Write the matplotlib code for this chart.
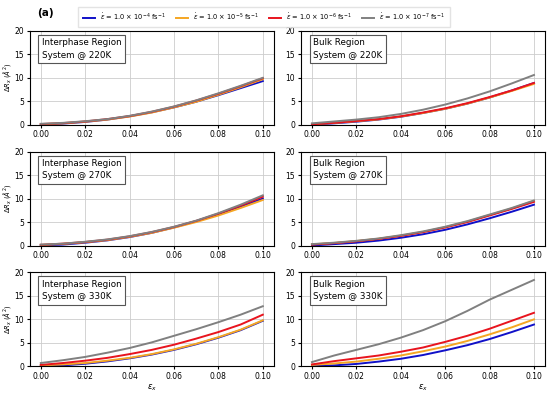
import matplotlib
matplotlib.use("Agg")
import matplotlib.pyplot as plt
import numpy as np

strain = [0.0, 0.01, 0.02, 0.03, 0.04, 0.05, 0.06, 0.07, 0.08, 0.09, 0.10]

rate_labels = [r"$\dot{\varepsilon}$ = 1.0 $\times$ 10$^{-4}$ fs$^{-1}$",
               r"$\dot{\varepsilon}$ = 1.0 $\times$ 10$^{-5}$ fs$^{-1}$",
               r"$\dot{\varepsilon}$ = 1.0 $\times$ 10$^{-6}$ fs$^{-1}$",
               r"$\dot{\varepsilon}$ = 1.0 $\times$ 10$^{-7}$ fs$^{-1}$"]
colores = ["#1010c8", "#f5a623", "#e8141e", "#808080"]

panel_titles = ["Interphase Region\nSystem @ 220K", "Bulk Region\nSystem @ 220K",
                "Interphase Region\nSystem @ 270K", "Bulk Region\nSystem @ 270K",
                "Interphase Region\nSystem @ 330K", "Bulk Region\nSystem @ 330K"]

# orden de series: 1e-4, 1e-5, 1e-6, 1e-7
inter_220 = [[0.0, 0.25, 0.6, 1.1, 1.8, 2.65, 3.7, 4.9, 6.3, 7.8, 9.3],
             [0.1, 0.3, 0.65, 1.1, 1.75, 2.6, 3.7, 4.9, 6.4, 8.0, 9.7],
             [0.15, 0.35, 0.7, 1.2, 1.85, 2.75, 3.85, 5.15, 6.6, 8.2, 9.9],
             [0.2, 0.4, 0.75, 1.2, 1.9, 2.8, 3.9, 5.2, 6.7, 8.3, 10.0]]
bulk_220 = [[0.0, 0.3, 0.65, 1.1, 1.7, 2.5, 3.4, 4.5, 5.8, 7.3, 8.9],
            [0.1, 0.4, 0.75, 1.15, 1.75, 2.5, 3.4, 4.5, 5.8, 7.2, 8.7],
            [0.1, 0.4, 0.8, 1.2, 1.8, 2.6, 3.5, 4.6, 5.9, 7.3, 8.9],
            [0.3, 0.7, 1.1, 1.6, 2.3, 3.2, 4.3, 5.6, 7.1, 8.8, 10.6]]
inter_270 = [[0.0, 0.2, 0.6, 1.1, 1.8, 2.7, 3.85, 5.2, 6.7, 8.3, 10.0],
             [0.1, 0.35, 0.7, 1.15, 1.85, 2.7, 3.8, 5.0, 6.4, 8.0, 9.7],
             [0.15, 0.4, 0.75, 1.25, 1.95, 2.85, 3.95, 5.25, 6.8, 8.5, 10.4],
             [0.2, 0.4, 0.8, 1.3, 2.0, 2.9, 4.0, 5.3, 6.9, 8.7, 10.7]]
bulk_270 = [[0.0, 0.3, 0.6, 1.05, 1.65, 2.4, 3.35, 4.5, 5.8, 7.2, 8.7],
            [0.25, 0.55, 0.95, 1.45, 2.1, 2.9, 3.9, 5.1, 6.5, 7.9, 9.5],
            [0.2, 0.5, 0.9, 1.4, 2.05, 2.85, 3.85, 5.0, 6.4, 7.8, 9.3],
            [0.3, 0.6, 1.0, 1.5, 2.2, 3.0, 4.0, 5.2, 6.6, 8.0, 9.6]]
inter_330 = [[0.0, 0.2, 0.55, 1.05, 1.7, 2.5, 3.5, 4.7, 6.1, 7.7, 9.7],
             [0.2, 0.4, 0.7, 1.2, 1.8, 2.6, 3.6, 4.8, 6.2, 7.8, 9.8],
             [0.3, 0.7, 1.2, 1.8, 2.6, 3.5, 4.6, 5.9, 7.3, 8.9, 11.0],
             [0.7, 1.3, 2.0, 2.9, 3.9, 5.1, 6.5, 7.9, 9.4, 11.0, 12.8]]
bulk_330 = [[0.0, 0.2, 0.5, 1.0, 1.6, 2.4, 3.4, 4.5, 5.8, 7.3, 8.9],
            [0.3, 0.6, 1.0, 1.6, 2.3, 3.2, 4.2, 5.4, 6.8, 8.3, 10.0],
            [0.4, 1.1, 1.7, 2.3, 3.1, 4.0, 5.2, 6.5, 8.0, 9.7, 11.4],
            [0.9, 2.3, 3.5, 4.7, 6.1, 7.7, 9.6, 11.8, 14.2, 16.3, 18.4]]

paneles = [inter_220, bulk_220, inter_270, bulk_270, inter_330, bulk_330]

fig = plt.figure(figsize=(5.5, 3.96), dpi=100)
pos_x = [0.054, 0.547]
pos_y = [0.685, 0.38, 0.075]
ancho, alto = 0.444, 0.237

ejes = []
for i in range(6):
    fila, col = i // 2, i % 2
    ax = fig.add_axes([pos_x[col], pos_y[fila], ancho, alto])
    ejes.append(ax)
    for k, serie in enumerate(paneles[i]):
        ax.plot(strain, serie, color=colores[k], lw=1.4, label=rate_labels[k])
    ax.set_ylim(0, 20)
    ax.set_yticks([0, 5, 10, 15, 20])
    ax.set_xticks(np.arange(0, 0.101, 0.02))
    ax.set_xticklabels(["0.00", "0.02", "0.04", "0.06", "0.08", "0.10"])
    ax.tick_params(labelsize=5.5, length=2.5, pad=1.5)
    ax.grid(True, color="#cccccc", lw=0.6)
    ax.text(0.05, 0.92, panel_titles[i], transform=ax.transAxes, va="top", ha="left",
            fontsize=6.3, linespacing=1.45,
            bbox=dict(boxstyle="square,pad=0.4", fc="white", ec="#555555", lw=0.8))
    if col == 0:
        ax.set_ylabel(r"$\Delta R_x$ ($\AA^2$)", fontsize=4.8)
        ax.yaxis.set_label_coords(-0.07, 0.5)
    if fila == 2:
        ax.set_xlabel(r"$\varepsilon_x$", fontsize=6, labelpad=1)

handles, labels = ejes[0].get_legend_handles_labels()
fig.legend(handles, labels, loc="center", bbox_to_anchor=(0.48, 0.958), ncol=4,
           fontsize=4.8, frameon=True, handlelength=1.8, columnspacing=1.5,
           borderpad=0.7, fancybox=False, edgecolor="#dddddd")
fig.text(0.068, 0.967, "(a)", fontsize=7.5, fontweight="bold", va="center")

fig.savefig("out.png", dpi=100)
